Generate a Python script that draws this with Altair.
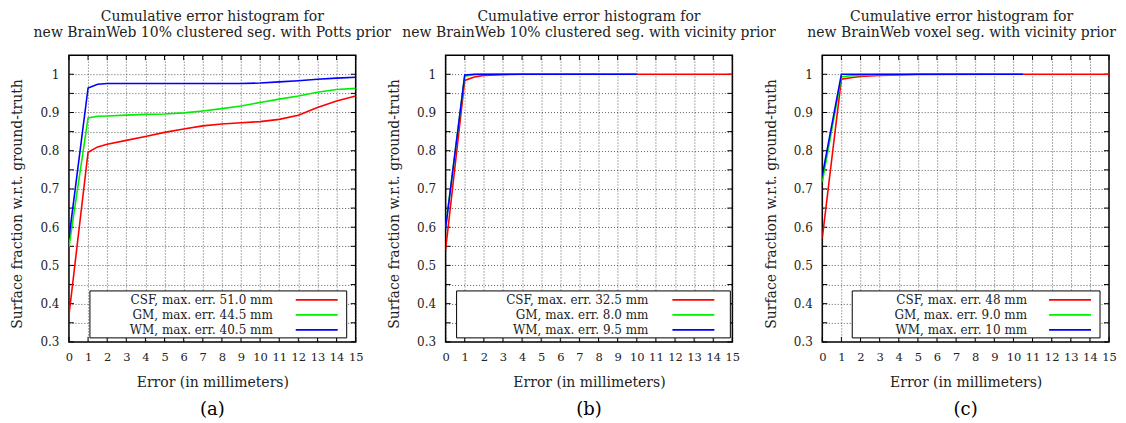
import altair as alt
import pandas as pd

FONT = "DejaVu Serif"
W, H = 287, 287

X_TICKS = [0, 1, 2, 3, 4, 5, 6, 7, 8, 9, 10, 11, 12, 13, 14, 15]
Y_GRID = [0.3, 0.35, 0.4, 0.45, 0.5, 0.55, 0.6, 0.65, 0.7, 0.75, 0.8, 0.85, 0.9, 0.95, 1.0]
COLORS = ["#ff0000", "#00ee00", "#0000ff"]

# ---- panel (a): Potts prior ----
a_title = "new BrainWeb 10% clustered seg. with Potts prior"
a_labels = ["CSF, max. err. 51.0 mm", "GM, max. err. 44.5 mm", "WM, max. err. 40.5 mm"]
a_x = [0, 1, 1.5, 2, 3, 4, 5, 6, 7, 8, 9, 10, 11, 12, 13, 14, 15]
a_csf = [0.369, 0.796, 0.81, 0.817, 0.827, 0.837, 0.848, 0.857, 0.865, 0.87, 0.873, 0.876, 0.882, 0.893, 0.913, 0.93, 0.943]
a_gm = [0.548, 0.886, 0.89, 0.891, 0.893, 0.895, 0.896, 0.899, 0.904, 0.91, 0.917, 0.926, 0.935, 0.943, 0.953, 0.96, 0.963]
a_wm = [0.571, 0.964, 0.974, 0.976, 0.976, 0.976, 0.976, 0.976, 0.976, 0.976, 0.976, 0.977, 0.98, 0.983, 0.987, 0.99, 0.992]

# ---- panel (b): 10% clustered, vicinity prior ----
b_title = "new BrainWeb 10% clustered seg. with vicinity prior"
b_labels = ["CSF, max. err. 32.5 mm", "GM, max. err. 8.0 mm", "WM, max. err. 9.5 mm"]
b_csf_x = [0, 1, 1.5, 2, 3, 4, 5, 10, 15]
b_csf = [0.541, 0.984, 0.993, 0.997, 0.999, 1.0, 1.0, 1.0, 1.0]
b_gm_x = [0, 1, 1.5, 2, 3, 8]
b_gm = [0.6, 0.995, 0.999, 1.0, 1.0, 1.0]
b_wm_x = [0, 1, 1.5, 2, 10]
b_wm = [0.597, 0.998, 1.0, 1.0, 1.0]

# ---- panel (c): voxel seg., vicinity prior ----
c_title = "new BrainWeb voxel seg. with vicinity prior"
c_labels = ["CSF, max. err. 48 mm", "GM, max. err. 9.0 mm", "WM, max. err. 10 mm"]
c_csf_x = [0, 1, 1.5, 2, 3, 4, 5, 15]
c_csf = [0.571, 0.987, 0.991, 0.994, 0.997, 0.998, 1.0, 1.0]
c_gm_x = [0, 1, 1.5, 2, 3, 9]
c_gm = [0.718, 0.993, 0.996, 0.997, 0.999, 1.0]
c_wm_x = [0, 1, 2, 10.5]
c_wm = [0.735, 1.0, 1.0, 1.0]


def xenc(field):
    return alt.X(field, type="quantitative",
                 scale=alt.Scale(domain=[0, 15], nice=False, zero=False),
                 axis=alt.Axis(values=X_TICKS, format="d", grid=True, labelOverlap=False,
                               labelFlush=False, labelFontSize=11.5,
                               title="Error (in millimeters)",
                               titleX=W / 2, titleY=41, titleBaseline="middle"))


def yenc(field):
    return alt.Y(field, type="quantitative",
                 scale=alt.Scale(domain=[0.3, 1.05], nice=False, zero=False),
                 axis=alt.Axis(values=Y_GRID, grid=True, labelOverlap=False, labelFlush=False,
                               labelExpr="round(datum.value*20) % 2 == 0 ? format(datum.value, '.1~f') : ''",
                               title="Surface fraction w.r.t. ground-truth",
                               titleX=-51, titleY=H / 2 + 5, titleBaseline="middle"))


def panel(title2, series, labels, box, text_right, tag, tdx):
    layers = []
    xt = pd.DataFrame({"v": X_TICKS})
    yt = pd.DataFrame({"v": Y_GRID})
    # inward tick marks on all four sides
    layers.append(alt.Chart(xt).mark_rule(color="black", strokeWidth=1).encode(
        x=xenc("v"), y=alt.value(H), y2=alt.value(H - 5)))
    layers.append(alt.Chart(xt).mark_rule(color="black", strokeWidth=1).encode(
        x=xenc("v"), y=alt.value(0), y2=alt.value(5)))
    layers.append(alt.Chart(yt).mark_rule(color="black", strokeWidth=1).encode(
        y=yenc("v"), x=alt.value(0), x2=alt.value(5)))
    layers.append(alt.Chart(yt).mark_rule(color="black", strokeWidth=1).encode(
        y=yenc("v"), x=alt.value(W), x2=alt.value(W - 5)))
    # data lines
    for (xs, ys), col in zip(series, COLORS):
        df = pd.DataFrame({"x": xs, "y": ys})
        layers.append(alt.Chart(df).mark_line(color=col, strokeWidth=1.6, clip=True).encode(
            x=xenc("x"), y=yenc("y")))
    # legend box
    one = pd.DataFrame({"k": [0]})
    layers.append(alt.Chart(one).mark_rect(fill="white", stroke="black", strokeWidth=1).encode(
        x=alt.value(box[0]), x2=alt.value(box[1]), y=alt.value(236), y2=alt.value(283)))
    for i, (lab, col) in enumerate(zip(labels, COLORS)):
        yy = 245 + 15 * i
        layers.append(alt.Chart(one).mark_text(text=lab, align="right", baseline="middle",
                                               font=FONT, fontSize=12, color="#222").encode(
            x=alt.value(text_right), y=alt.value(yy)))
        layers.append(alt.Chart(one).mark_rule(color=col, strokeWidth=1.6).encode(
            x=alt.value(227), x2=alt.value(269), y=alt.value(yy)))
    # sub-figure tag
    layers.append(alt.Chart(one).mark_text(text=tag, font=FONT, fontSize=18, baseline="middle",
                                           color="black").encode(
        x=alt.value(W / 2), y=alt.value(355)))
    return alt.layer(*layers).properties(
        width=W, height=H,
        title=alt.Title(["Cumulative error histogram for", title2], font=FONT, fontSize=14,
                        fontWeight="normal", anchor="middle", frame="group", offset=15,
                        lineHeight=16, color="#222", dx=tdx))


pa = panel(a_title, [(a_x, a_csf), (a_x, a_gm), (a_x, a_wm)], a_labels, (21, 278), 204, "(a)", 0)
pb = panel(b_title, [(b_csf_x, b_csf), (b_gm_x, b_gm), (b_wm_x, b_wm)], b_labels, (11, 285), 203, "(b)", 0)
pc = panel(c_title, [(c_csf_x, c_csf), (c_gm_x, c_gm), (c_wm_x, c_wm)], c_labels, (30, 278), 205, "(c)", -4)

chart = alt.hconcat(pa, pb, pc, spacing=90, bounds="flush").properties(
    padding={"left": 2, "top": 0, "right": 0, "bottom": 0},
    background="white",
).configure_view(stroke="black", strokeWidth=1.5).configure_axis(
    labelFont=FONT, labelFontSize=12, labelColor="#222", labelPadding=10,
    titleFont=FONT, titleFontSize=14, titleFontWeight="normal", titleColor="#222",
    ticks=False, domain=False, gridColor="#333", gridDash=[1, 2], gridWidth=0.8, gridOpacity=1
)

chart.save("out.html", embed_options={"renderer": "svg", "actions": False})
